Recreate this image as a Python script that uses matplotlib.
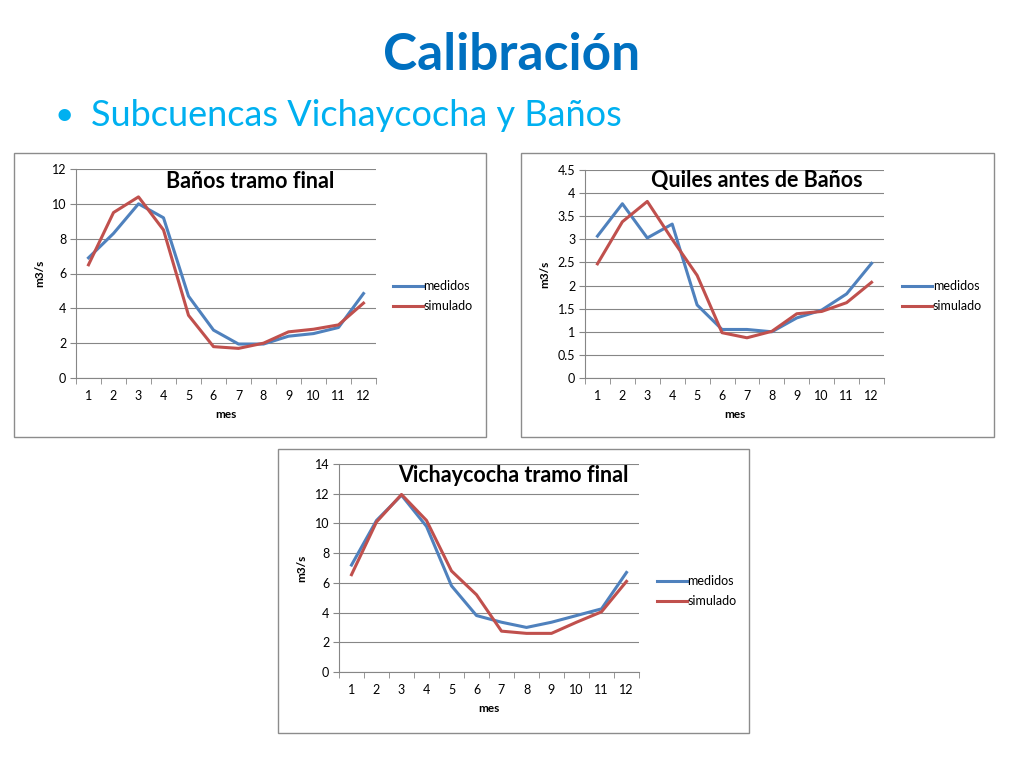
import matplotlib
matplotlib.use("Agg")
import matplotlib.pyplot as plt
from matplotlib.patches import Rectangle
from matplotlib.ticker import FixedLocator, MultipleLocator, FuncFormatter

plt.rcParams['font.family'] = ['Lato', 'DejaVu Sans']

meses = list(range(1, 13))

banos_medidos = [6.9, 8.3, 10.0, 9.2, 4.7, 2.75, 1.95, 1.95, 2.4, 2.55, 2.9, 4.85]
banos_simulado = [6.5, 9.5, 10.4, 8.5, 3.6, 1.8, 1.7, 2.0, 2.65, 2.8, 3.05, 4.3]

quiles_medidos = [3.07, 3.77, 3.03, 3.33, 1.58, 1.05, 1.05, 1.0, 1.3, 1.47, 1.82, 2.48]
quiles_simulado = [2.47, 3.38, 3.82, 3.0, 2.22, 0.98, 0.87, 1.01, 1.39, 1.44, 1.63, 2.07]

vicha_medidos = [7.2, 10.2, 11.9, 9.8, 5.8, 3.8, 3.35, 3.0, 3.35, 3.8, 4.25, 6.7]
vicha_simulado = [6.55, 10.1, 11.95, 10.2, 6.8, 5.2, 2.75, 2.6, 2.6, 3.35, 4.05, 6.1]

W, H = 1024, 768
fig = plt.figure(figsize=(W / 100, H / 100), dpi=100)

BLUE = '#4F81BD'
RED = '#C0504D'
GRID = '#868686'


def fx(x):
    return x / W


def fy(y):
    return 1 - y / H


def box(x0, y0, x1, y1):
    fig.patches.append(Rectangle((fx(x0), fy(y1)), fx(x1 - x0), (y1 - y0) / H,
                                 transform=fig.transFigure, fill=False,
                                 edgecolor='#8c8c8c', linewidth=1.0))


def chart(rect, med, sim, title, title_xy, ymax, ystep, legend_xy):
    l, t, r, b = rect
    ax = fig.add_axes([fx(l), fy(b), fx(r - l), (b - t) / H])
    ax.plot(meses, med, color=BLUE, lw=2.2, label='medidos', solid_joinstyle='round')
    ax.plot(meses, sim, color=RED, lw=2.2, label='simulado', solid_joinstyle='round')
    ax.set_xlim(0.5, 12.5)
    ax.set_ylim(0, ymax)
    ax.yaxis.set_major_locator(MultipleLocator(ystep))
    ax.yaxis.set_major_formatter(FuncFormatter(lambda v, p: '%g' % v))
    ax.grid(axis='y', color=GRID, lw=0.8)
    ax.set_axisbelow(True)
    for s in ['top', 'right']:
        ax.spines[s].set_visible(False)
    for s in ['left', 'bottom']:
        ax.spines[s].set_color(GRID)
        ax.spines[s].set_linewidth(0.8)
    ax.set_xticks(meses)
    ax.set_xticklabels([str(m) for m in meses])
    ax.xaxis.set_minor_locator(FixedLocator([m + 0.5 for m in range(0, 13)]))
    ax.tick_params(axis='x', which='major', length=0, pad=9, labelsize=9, colors='#000000')
    ax.tick_params(axis='x', which='minor', length=4, color=GRID, direction='out')
    ax.tick_params(axis='y', which='major', length=4, color=GRID, labelsize=9, pad=3)
    ax.set_xlabel('mes', fontsize=8.5, fontweight='bold', labelpad=5)
    ax.set_ylabel('m3/s', fontsize=8.5, fontweight='bold', labelpad=5)
    tx, ty = title_xy
    fig.text(fx(tx), fy(ty), title, ha='center', va='center',
             fontsize=15.5, fontweight='bold')
    lx, ly = legend_xy
    ax.legend(loc='center left', bbox_to_anchor=(fx(lx), fy(ly)),
              bbox_transform=fig.transFigure, frameon=False, fontsize=9,
              handlelength=2.4, handletextpad=0.05, labelspacing=0.65,
              borderaxespad=0, borderpad=0)
    return ax


box(14, 153, 486, 437)
box(521, 153, 994, 437)
box(278, 449, 749, 733)

chart((76, 169, 376, 378), banos_medidos, banos_simulado, 'Baños tramo final',
      (250, 181), 12, 2, (393, 296))
chart((585, 170, 884, 378), quiles_medidos, quiles_simulado, 'Quiles antes de Baños',
      (757, 181), 4.5, 0.5, (902, 296))
chart((339, 464, 639, 672), vicha_medidos, vicha_simulado, 'Vichaycocha tramo final',
      (513, 476), 14, 2, (657, 591))

fig.text(fx(512), fy(55), 'Calibración', ha='center', va='center',
         fontsize=37, fontweight='bold', color='#0070C0')
fig.text(fx(54), fy(116), '•', ha='left', va='center', fontsize=24, color='#00B0F0')
fig.text(fx(91), fy(116), 'Subcuencas Vichaycocha y Baños', ha='left', va='center',
         fontsize=26, color='#00B0F0')

fig.savefig('out.png', dpi=100)
